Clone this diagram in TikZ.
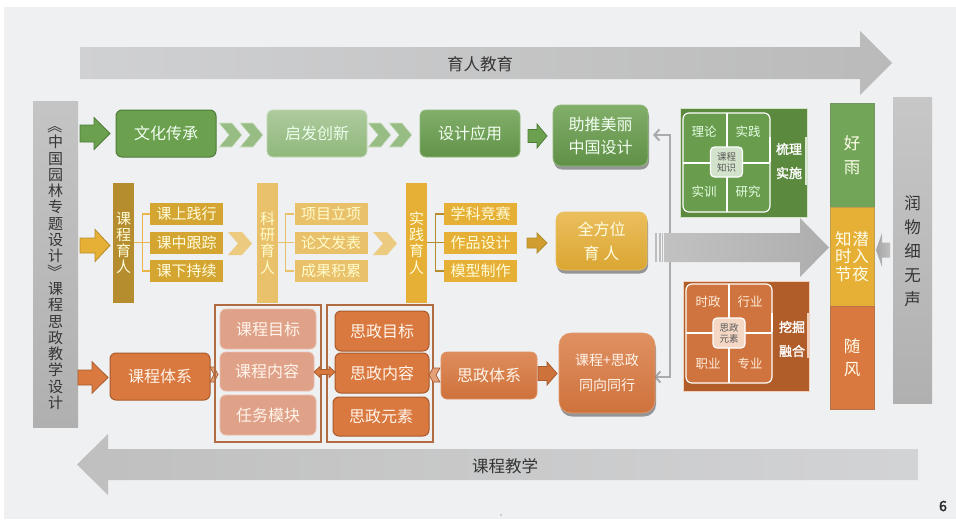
\documentclass[tikz,border=0pt]{standalone}
\usepackage{fontspec}
\setmainfont{Noto Sans CJK SC}[AutoFakeBold=2]
\usetikzlibrary{shadows,arrows.meta}
\definecolor{panelbg}{HTML}{EFF0F2}
\definecolor{txtdark}{HTML}{353535}
\definecolor{gmain}{HTML}{6BA04F}
\definecolor{gdark}{HTML}{4E7C38}
\definecolor{gpanel}{HTML}{5B893D}
\definecolor{ginner}{HTML}{699C4C}
\definecolor{ymain}{HTML}{E6AF35}
\definecolor{ydark}{HTML}{B58D2E}
\definecolor{ybox}{HTML}{D4A530}
\definecolor{ylight}{HTML}{E9C16A}
\definecolor{omain}{HTML}{D9783F}
\definecolor{odark}{HTML}{A85A2C}
\definecolor{osal}{HTML}{E0A189}
\definecolor{opanel}{HTML}{B05D2A}
\definecolor{oinner}{HTML}{D0743F}
\definecolor{graycon}{HTML}{A9ABAD}
\newcommand\rarr[7]{\path[#1] (#2,{#5-#6}) -- (#3,{#5-#6}) -- (#3,{#5-#7}) -- (#4,#5) -- (#3,{#5+#7}) -- (#3,{#5+#6}) -- (#2,{#5+#6}) -- cycle;}
\newcommand\chev[6]{\path[#1] (#2,#4) -- ({#3-#6},#4) -- (#3,{(#4+#5)/2}) -- ({#3-#6},#5) -- (#2,#5) -- ({#2+#6},{(#4+#5)/2}) -- cycle;}
\newcommand\vbrk[1]{\rotatebox[origin=c]{-90}{#1}}
\tikzset{
  f15/.style={font=\fontsize{16}{18}\selectfont},
  bx/.style={inner sep=0pt, rounded corners=6pt, f15, align=center},
  greenbox/.style={bx, fill=gmain, draw=gdark, line width=1pt, text=white!95!green},
  ybar/.style={inner sep=0pt, minimum width=21pt, minimum height=120pt, align=center, font=\fontsize{15}{16.2}\selectfont},
  ysmall/.style={inner sep=0pt, minimum width=73pt, minimum height=22pt, font=\fontsize{15}{16}\selectfont},
  salbox/.style={bx, fill=osal, draw=osal!70!white, line width=0.8pt, text=white!92!orange},
  orbox/.style={bx, fill=omain, draw=odark, line width=1pt, text=white!92!orange},
  bigshadow/.style={drop shadow={shadow xshift=1pt, shadow yshift=-3.5pt, opacity=0.55, fill=black!70}},
  plab/.style={font=\fontsize{12.5}{14}\selectfont},
  cbox/.style={inner sep=0pt, rounded corners=4pt, minimum width=32pt, minimum height=30pt, draw=white, line width=1.2pt, align=center, text=black!65, font=\fontsize{9.5}{11}\selectfont},
  rtxt/.style={text=white, font=\bfseries\fontsize{13}{15}\selectfont},
  colbox/.style={inner sep=0pt, minimum width=44pt, align=center, font=\fontsize{16.5}{23.5}\selectfont, text=white!92!yellow},
  grayarrow/.style={draw=graycon, line width=2pt, {Straight Barb[length=5pt,width=11pt]}-{Straight Barb[length=5pt,width=11pt]}},
}
\begin{document}
\begin{tikzpicture}[x=1pt,y=-1pt]
\useasboundingbox (0,0) rectangle (956,522);
\fill[white] (0,0) rectangle (956,522);
\fill[panelbg] (4,7) rectangle (956,519);

% top and bottom arrows
\rarr{left color=black!13!panelbg, right color=black!27}{80}{860}{892}{63}{16}{32}
\node[font=\fontsize{16.5}{18}\selectfont, text=txtdark] (yrjy) at (480,64) {育人教育};
\rarr{left color=black!25, right color=black!12!panelbg}{918}{108}{77}{464.5}{15.5}{30.5}
\node[font=\fontsize{16.5}{18}\selectfont, text=txtdark] (kcjx) at (505,466) {课程教学};

% gray connector (behind the big arrow)
\coordinate (ct) at (653,135);
\coordinate (cb) at (654,377);
\draw[grayarrow] (ct) -- (670,135) -- (670,377) -- (cb);

% big middle arrow
\rarr{left color=black!24, right color=black!32}{664}{800}{829}{247.5}{14.5}{29.5}
\fill[black!26] (655,233) rectangle (656.8,262);
\fill[black!26] (659,233) rectangle (660.8,262);
\fill[black!26] (661.8,233) rectangle (663.2,262);

% left gray bar
\node[inner sep=0pt, minimum width=45pt, minimum height=326pt, top color=black!23, bottom color=black!31] (lbar) at (55.5,264) {};
\node[align=center, font=\fontsize{15}{16.3}\selectfont, text=txtdark] (ltext) at (55.5,264) {\vbrk{《}\\中\\国\\园\\林\\专\\题\\设\\计\\\vbrk{》}\\课\\程\\思\\政\\教\\学\\设\\计};

% right gray bar
\node[inner sep=0pt, minimum width=39pt, minimum height=306pt, top color=black!22, bottom color=black!31] (rbar) at (912.5,250) {};
\node[align=center, font=\fontsize{16.5}{24}\selectfont, text=txtdark] at (912.5,251) {润\\物\\细\\无\\声};

% colour column
\node[colbox, minimum height=104pt, fill=gmain!95!white, draw=gdark!80, line width=0.8pt] (hy) at (852,155) {好\\雨};
\node[colbox, minimum height=99pt, fill=ymain, draw=ydark!85, line width=0.8pt, font=\fontsize{16.5}{17.5}\selectfont] (zs) at (852,256.5) {知\hspace{1pt}潜\\时\hspace{1pt}入\\节\hspace{1pt}夜};
\node[colbox, minimum height=103pt, fill=omain, draw=odark!85, line width=0.8pt] (sf) at (852,357.5) {随\\风};
\rarr{left color=black!35, right color=black!25}{890}{882}{876}{250}{7.5}{17}

% ---------- Row 1 (green) ----------
\rarr{fill=gmain, draw=gdark, line width=0.8pt}{80}{94}{110}{133.5}{8.5}{16}
\node[greenbox, minimum width=100pt, minimum height=47pt] (whcc) at (166,133.5) {文化传承};
\chev{fill=gmain!70!white, draw=white!70!gmain, line width=0.6pt}{219}{242}{123}{147}{10}
\chev{fill=gmain!70!white, draw=white!70!gmain, line width=0.6pt}{240}{263}{123}{147}{10}
\node[bx, minimum width=100pt, minimum height=47pt, top color=gmain!55!white, bottom color=gmain!75!white, draw=gmain!40!white, line width=0.8pt, text=white!92!green] (qfcx) at (317,133.5) {启发创新};
\chev{fill=gmain!70!white, draw=white!70!gmain, line width=0.6pt}{368}{391}{123}{147}{10}
\chev{fill=gmain!70!white, draw=white!70!gmain, line width=0.6pt}{389}{412}{123}{147}{10}
\node[bx, minimum width=100pt, minimum height=47pt, top color=gmain!85!white, bottom color=gmain!92!black, draw=gmain!75!white, line width=0.8pt, text=white!95!green] (sjyy) at (470,133.5) {设计应用};
\rarr{fill=gmain, draw=gdark, line width=0.8pt}{528}{537}{547}{136}{6.5}{12}
\node[bx, rounded corners=8pt, minimum width=95pt, minimum height=61pt, top color=gmain!85!white, bottom color=gmain!90!black, draw=gmain!75!white, line width=0.8pt, text=white!95!green, bigshadow, font=\fontsize{16}{23}\selectfont] (ztml) at (600.5,135.5) {助推美丽\\中国设计};

% green panel
\fill[gpanel] (680,108) rectangle (807,217);
\draw[gmain!30!white, line width=0.8pt] (680,108) rectangle (807,217);
\draw[white, line width=1.2pt, fill=ginner, rounded corners=6pt] (683,113) rectangle (770,212);
\draw[white, line width=1.2pt] (727,113) -- (727,212) (683,163) -- (770,163);
\draw[white, line width=2pt] (770,137) -- (770,162);
\draw[gmain!25!white, line width=2pt] (806,137) -- (806,185);
\node[cbox, fill=gmain!30!white] (kczs) at (726.5,162) {课程\\知识};
\node[plab, text=white!90!green] (ll) at (704,132) {理论};
\node[plab, text=white!90!green] (sjn) at (748,132) {实践};
\node[plab, text=white!90!green] (sx) at (704,192) {实训};
\node[plab, text=white!90!green] (yj) at (748,192) {研究};
\node[rtxt] (sl) at (789,149) {梳理};
\node[rtxt] (ss) at (789,173) {实施};

% ---------- Row 2 (yellow) ----------
\rarr{fill=ymain, draw=ydark, line width=0.8pt}{80}{95}{110}{245.5}{7.5}{16}
\node[ybar, fill=ydark, text=white!85!yellow] (kcyr) at (123.5,243) {课\\程\\育\\人};
\node[ysmall, fill=ybox, text=white!88!yellow] (ksjx) at (186.5,214) {课上践行};
\node[ysmall, fill=ybox, text=white!88!yellow] (kzgz) at (186.5,242.5) {课中跟踪};
\node[ysmall, fill=ybox, text=white!88!yellow] (kxcx) at (186.5,271) {课下持续};
\draw[ymain!90!white, line width=1.3pt] (kcyr.east |- kzgz.west) -- (kzgz.west);
\draw[ymain!90!white, line width=1.3pt] (ksjx.west) -- ++(-7,0) |- (kxcx.west);
\chev{fill=ylight!85!white}{228}{252}{232}{255}{10}
\node[ybar, fill=ylight, text=white!80!yellow] (kyyr) at (267.5,243) {科\\研\\育\\人};
\node[ysmall, fill=ylight, text=white!80!yellow] (xmlx) at (331,214) {项目立项};
\node[ysmall, fill=ylight, text=white!80!yellow] (lwfb) at (331,242.5) {论文发表};
\node[ysmall, fill=ylight, text=white!80!yellow] (cgjl) at (331,271) {成果积累};
\draw[ylight, line width=1.3pt] (kyyr.east |- lwfb.west) -- (lwfb.west);
\draw[ylight, line width=1.3pt] (xmlx.west) -- ++(-9,0) |- (cgjl.west);
\chev{fill=ylight!85!white}{373}{397}{232}{255}{10}
\node[ybar, fill=ymain, text=white!85!yellow] (sjyr) at (416.5,243) {实\\践\\育\\人};
\node[ysmall, fill=ymain, text=white!85!yellow] (xkjs) at (480.5,214) {学科竞赛};
\node[ysmall, fill=ymain, text=white!85!yellow] (zpsj) at (480.5,242.5) {作品设计};
\node[ysmall, fill=ymain, text=white!85!yellow] (mxzz) at (480.5,271) {模型制作};
\draw[ydark, line width=1.3pt] (sjyr.east |- zpsj.west) -- (zpsj.west);
\draw[ydark, line width=1.3pt] (xkjs.west) -- ++(-8,0) |- (mxzz.west);
\rarr{fill=ymain!90!black, draw=ydark, line width=0.8pt}{527}{537}{547}{243}{5}{10}
\node[bx, rounded corners=8pt, minimum width=91pt, minimum height=58pt, top color=ymain!80!white, bottom color=ymain!95!black, draw=ymain!80!white, line width=0.6pt, text=white!90!yellow, bigshadow, font=\fontsize{16}{24}\selectfont] (qfw) at (601.5,241) {全方位\\育\hspace{4pt}人};

% ---------- Row 3 (orange) ----------
\rarr{fill=omain, draw=odark, line width=0.8pt}{78}{92}{108}{377.5}{7.5}{15.8}
\node[orbox, minimum width=100pt, minimum height=47pt] (kctx) at (160,376.5) {课程体系};
\chev{fill=omain!70!white, draw=odark, line width=0.7pt}{210}{218}{367}{382}{4}
\draw[odark!90!white, line width=1.3pt] (215,305) rectangle (321,442);
\node[salbox, minimum width=96pt, minimum height=40pt] (kcmb) at (268,329) {课程目标};
\node[salbox, minimum width=94pt, minimum height=39pt] (kcnr) at (267,371.5) {课程内容};
\node[salbox, minimum width=96pt, minimum height=40pt] (rwmk) at (268,415) {任务模块};
\draw[odark!90!white, line width=1.3pt] (327,305) rectangle (433,442);
\node[orbox, minimum width=94pt, minimum height=40pt] (szmb) at (382,331) {思政目标};
\node[orbox, minimum width=94pt, minimum height=40pt] (sznr) at (382,373) {思政内容};
\node[orbox, minimum width=96pt, minimum height=39pt] (szys) at (381,416.5) {思政元素};
\path[fill=omain, draw=odark, line width=0.7pt] (314,372) -- (320,366.5) -- (320,369.5) -- (329,369.5) -- (329,366.5) -- (335,372) -- (329,377.5) -- (329,374.5) -- (320,374.5) -- (320,377.5) -- cycle;
\chev{fill=omain!70!white, draw=odark, line width=0.7pt}{440}{429}{368}{382}{-4}
\node[bx, minimum width=96pt, minimum height=47pt, top color=omain!85!white, bottom color=omain!95!black, draw=omain!80!white, line width=0.6pt, text=white!92!orange] (sztx) at (489,375.5) {思政体系};
\rarr{fill=omain!95!black, draw=odark, line width=0.8pt}{538}{547}{557}{373.5}{7}{11.5}
\node[bx, rounded corners=12pt, minimum width=96pt, minimum height=80pt, top color=omain!82!white, bottom color=omain!95!black, draw=omain!75!white, line width=0.6pt, text=white!92!orange, bigshadow, font=\fontsize{14}{25}\selectfont] (kcsz) at (607,373) {课程+思政\\同向同行};

% orange panel
\fill[opanel] (683,281) rectangle (809,391);
\draw[omain!35!white, line width=0.8pt] (683,281) rectangle (809,391);
\draw[white, line width=1.2pt, fill=oinner, rounded corners=6pt] (686,284) rectangle (772,383);
\draw[white, line width=1.2pt] (729,284) -- (729,383) (686,333) -- (772,333);
\draw[white, line width=2pt] (772,313) -- (772,332);
\draw[omain!35!white, line width=2pt] (808,313) -- (808,358);
\node[cbox, fill=omain!30!white] (szysc) at (729,333) {思政\\元素};
\node[plab, text=white!85!orange] (shz) at (708,302) {时政};
\node[plab, text=white!85!orange] (hy2) at (750,302) {行业};
\node[plab, text=white!85!orange] (zy) at (708,364) {职业};
\node[plab, text=white!85!orange] (zhy) at (750,364) {专业};
\node[rtxt] (wj) at (792,327) {挖掘};
\node[rtxt] (rh) at (792,351) {融合};

% page number and dot
\node[font=\bfseries\fontsize{14}{16}\selectfont, text=black!85] (pg) at (943,506) {6};
\fill[black!35] (501,515) circle (0.9);
\end{tikzpicture}
\end{document}
